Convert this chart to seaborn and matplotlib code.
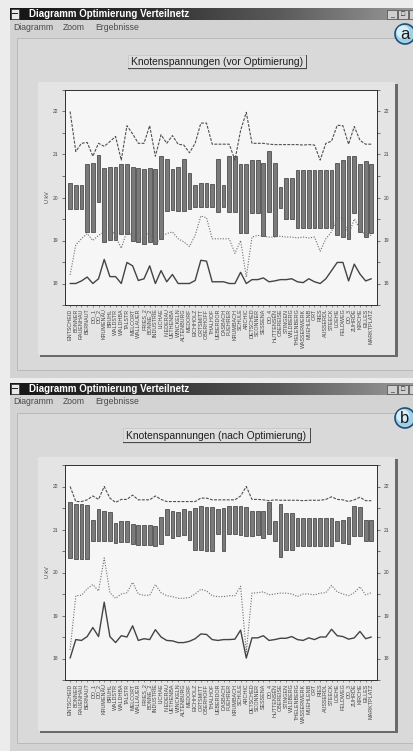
import numpy as np
import pandas as pd
import matplotlib
matplotlib.use("Agg")
import matplotlib.pyplot as plt
from matplotlib.patches import Rectangle, Ellipse
from matplotlib.colors import LinearSegmentedColormap
import seaborn as sns

# ---------------- data ----------------
nodes = ["ENTSCHEID", "BONNER", "RAUENHAU", "BERNAUT", "DO_1", "DO_2", "KRUMENAU",
         "BRUHL", "WALDSTR", "WALDHBA", "TALSTR", "MELCORT", "WALLAUER", "FRIES_2",
         "BONNE_2", "INDUSTRIE", "LICHAE", "NIEDERAU", "UETHENBA", "WINCKELN",
         "ALTENBURG", "MEDORF", "EICHHOLZ", "ORTSMITT", "OBERHOFF", "THALHOF",
         "UEBERDOR", "DASBACH", "FUEHRER", "KRUMBACH", "SCHULE", "ARCHIC",
         "DETSCHED", "SCONNER", "SESSENA", "DO_4", "HUTTENSEN", "OBEREISE",
         "STINGEN", "WILDBERG", "THELENBERG", "WASSERWERK", "MUEHLENB", "ORT",
         "RIES", "AUSSERDL", "STEECK", "LOEHE", "FELDWEG", "DO_3", "ZUHRDE",
         "KIRCHE", "EILLES", "MARKTPLATZ"]

# (a) vor Optimierung
bar_top_vor = [20.33, 20.30, 20.30, 20.78, 20.80, 20.99, 20.69, 20.70, 20.70, 20.77,
               20.77, 20.70, 20.69, 20.66, 20.69, 20.66, 20.97, 20.89, 20.66, 20.72,
               20.89, 20.57, 20.30, 20.33, 20.33, 20.31, 20.89, 20.30, 20.97, 20.97,
               20.78, 20.78, 20.87, 20.87, 20.81, 21.07, 20.81, 20.25, 20.45, 20.45,
               20.65, 20.65, 20.65, 20.65, 20.65, 20.65, 20.65, 20.81, 20.88, 20.96,
               20.96, 20.78, 20.85, 20.78]
bar_bot_vor = [19.74, 19.74, 19.74, 19.19, 19.19, 19.89, 18.96, 19.02, 19.02, 19.16,
               19.16, 18.99, 18.97, 18.93, 18.97, 18.92, 19.04, 19.68, 19.72, 19.68,
               19.68, 19.74, 19.77, 19.79, 19.78, 19.77, 19.66, 19.79, 19.66, 19.66,
               19.18, 19.18, 19.63, 19.64, 19.10, 19.66, 19.10, 19.75, 19.51, 19.51,
               19.29, 19.28, 19.28, 19.28, 19.28, 19.28, 19.28, 19.12, 19.08, 19.04,
               19.64, 19.19, 19.08, 19.18]
u_max_vor = [22.00, 21.07, 21.26, 21.28, 20.96, 21.26, 21.19, 21.30, 21.42, 20.87,
             21.67, 21.48, 21.26, 21.26, 21.67, 20.96, 21.46, 21.26, 21.44, 21.24,
             21.22, 21.04, 21.26, 21.73, 21.73, 21.24, 21.24, 21.24, 21.24, 20.87,
             21.56, 21.98, 21.26, 21.26, 21.26, 21.24, 21.23, 21.23, 21.23, 21.23,
             21.23, 21.22, 21.23, 21.22, 20.87, 21.26, 21.31, 21.68, 21.67, 21.24,
             21.65, 21.33, 21.24, 21.24]
u_mid_vor = [18.20, 18.90, 19.04, 19.16, 19.00, 19.12, 19.20, 19.30, 19.10, 18.82,
             19.22, 19.10, 19.04, 19.04, 19.20, 18.90, 19.08, 19.16, 19.20, 19.04,
             18.97, 18.86, 19.12, 19.57, 19.53, 19.04, 19.04, 19.04, 19.04, 18.70,
             19.00, 18.15, 19.08, 19.12, 19.10, 19.08, 19.08, 19.10, 19.08, 19.08,
             19.06, 19.08, 19.06, 19.08, 18.75, 19.04, 19.20, 19.53, 19.53, 19.12,
             19.50, 19.27, 19.12, 19.12]
u_min_vor = [18.00, 18.00, 18.06, 18.15, 18.00, 18.11, 18.56, 18.16, 18.16, 18.00,
             18.49, 18.41, 18.07, 18.11, 18.41, 18.00, 18.30, 18.04, 18.21, 18.00,
             18.00, 18.00, 18.07, 18.54, 18.52, 18.04, 18.04, 18.04, 18.00, 18.00,
             18.26, 18.00, 18.09, 18.09, 18.13, 18.04, 18.06, 18.09, 18.09, 18.11,
             18.04, 18.02, 18.11, 18.04, 18.00, 18.11, 18.30, 18.49, 18.49, 18.06,
             18.45, 18.22, 18.06, 18.11]

# (b) nach Optimierung
bar_top_nach = [21.63, 21.60, 21.60, 21.58, 21.22, 21.47, 21.43, 21.41, 21.15, 21.20,
                21.20, 21.13, 21.11, 21.10, 21.11, 21.08, 21.28, 21.47, 21.42, 21.41,
                21.48, 21.44, 21.50, 21.54, 21.52, 21.52, 21.47, 21.50, 21.54, 21.54,
                21.54, 21.53, 21.43, 21.43, 21.43, 21.65, 21.19, 21.59, 21.39, 21.39,
                21.27, 21.27, 21.27, 21.27, 21.27, 21.27, 21.27, 21.19, 21.23, 21.28,
                21.54, 21.53, 21.21, 21.21]
bar_bot_nach = [20.34, 20.32, 20.32, 20.31, 20.73, 20.74, 20.73, 20.73, 20.69, 20.72,
                20.72, 20.67, 20.65, 20.63, 20.65, 20.61, 20.67, 20.87, 20.81, 20.86,
                20.87, 20.75, 20.52, 20.52, 20.50, 20.50, 20.89, 20.49, 20.89, 20.89,
                20.87, 20.86, 20.84, 20.87, 20.81, 20.89, 20.73, 20.37, 20.52, 20.52,
                20.61, 20.61, 20.61, 20.61, 20.61, 20.61, 20.61, 20.73, 20.69, 20.67,
                20.86, 20.86, 20.73, 20.73]
u_max_nach = [22.00, 21.65, 21.65, 21.69, 21.78, 21.70, 22.00, 21.73, 21.63, 21.70,
              21.70, 21.80, 21.69, 21.69, 21.69, 21.78, 21.70, 21.65, 21.65, 21.65,
              21.65, 21.65, 21.65, 21.73, 21.73, 21.69, 21.69, 21.69, 21.69, 21.69,
              21.78, 22.00, 21.70, 21.70, 21.69, 21.67, 21.69, 21.68, 21.68, 21.68,
              21.68, 21.67, 21.68, 21.68, 21.68, 21.70, 21.76, 21.70, 21.69, 21.65,
              21.69, 21.75, 21.67, 21.67]
u_mid_nach = [18.20, 19.46, 19.47, 19.62, 19.72, 19.57, 20.34, 19.53, 19.40, 19.50,
              19.53, 19.77, 19.50, 19.47, 19.47, 19.72, 19.53, 19.46, 19.44, 19.40,
              19.40, 19.42, 19.50, 19.61, 19.57, 19.46, 19.44, 19.44, 19.46, 19.46,
              19.68, 18.15, 19.52, 19.53, 19.55, 19.48, 19.50, 19.52, 19.52, 19.50,
              19.44, 19.50, 19.50, 19.48, 19.52, 19.53, 19.70, 19.55, 19.50, 19.46,
              19.53, 19.67, 19.48, 19.53]
u_min_nach = [18.01, 18.44, 18.42, 18.51, 18.72, 18.51, 19.31, 18.51, 18.37, 18.53,
              18.50, 18.76, 18.42, 18.46, 18.44, 18.67, 18.50, 18.42, 18.41, 18.37,
              18.37, 18.40, 18.46, 18.57, 18.56, 18.44, 18.42, 18.44, 18.44, 18.45,
              18.66, 18.01, 18.48, 18.48, 18.53, 18.42, 18.44, 18.47, 18.47, 18.51,
              18.44, 18.42, 18.48, 18.44, 18.50, 18.50, 18.68, 18.53, 18.51, 18.45,
              18.48, 18.63, 18.46, 18.50]

y_ticks = [18, 19, 20, 21, 22]
window_title = "Diagramm Optimierung Verteilnetz"
menu_items = ["Diagramm", "Zoom", "Ergebnisse"]
chart_titles = ["Knotenspannungen (vor Optimierung)", "Knotenspannungen (nach Optimierung)"]
panel_letters = ["a", "b"]
y_label = "U kV"

# ---------------- style ----------------
sns.set_theme(style="white")
plt.rcParams["font.family"] = ["Liberation Sans", "DejaVu Sans"]

W, H = 414, 751
fig = plt.figure(figsize=(W / 100, H / 100), dpi=100, facecolor="#ececec")


def fx(x):
    return x / W


def fy(y):
    return 1 - y / H


def rect(x0, y0, x1, y1, z=-5, **kw):
    kw.setdefault("linewidth", 0)
    fig.add_artist(Rectangle((fx(x0), fy(y1)), (x1 - x0) / W, (y1 - y0) / H,
                             transform=fig.transFigure, zorder=z, **kw))


def disc(cx, cy, r, z, **kw):
    fig.add_artist(Ellipse((fx(cx), fy(cy)), 2 * r / W, 2 * r / H,
                           transform=fig.transFigure, zorder=z, **kw))


def text(x, y, s, **kw):
    fig.text(fx(x), fy(y), s, **kw)


def axes_px(x0, y0, x1, y1, **kw):
    return fig.add_axes([fx(x0), fy(y1), (x1 - x0) / W, (y1 - y0) / H], **kw)


title_cmap = LinearSegmentedColormap.from_list("tb", ["#151515", "#2e2e2e", "#5a5a5a", "#9a9a9a"])

windows = [
    dict(top=8, bottom=378, circ=(405, 34), btn=(128, 55, 306, 69),
         frame=(38, 82, 395, 355), plot=(65, 90, 377, 305),
         data=(bar_top_vor, bar_bot_vor, u_max_vor, u_mid_vor, u_min_vor)),
    dict(top=383, bottom=751, circ=(405, 418), btn=(123, 428, 310, 443),
         frame=(38, 457, 395, 731), plot=(65, 465, 377, 680),
         data=(bar_top_nach, bar_bot_nach, u_max_nach, u_mid_nach, u_min_nach)),
]

pos = np.arange(len(nodes))

for k, win in enumerate(windows):
    t = win["top"]
    # window body
    rect(10, t, 414, win["bottom"], z=-20, facecolor="#d3d3d3")
    # inner content panel
    rect(17, t + 30, 414, win["bottom"] - 8, z=-19, facecolor="#d9d9d9",
         edgecolor="#b5b5b5", linewidth=0.6)

    # title bar gradient
    tb = axes_px(10, t, 414, t + 12)
    tb.imshow(np.linspace(0, 1, 256)[None, :], cmap=title_cmap, aspect="auto")
    tb.set_axis_off()
    # icon
    rect(11, t + 1, 19, t + 11, z=5, facecolor="#e8e8e8", edgecolor="#222", linewidth=0.4)
    rect(12.5, t + 5.5, 17.5, t + 6.3, z=6, facecolor="#222")
    text(29, t + 6.3, window_title, color="white", fontsize=7.0, fontweight="bold",
         va="center", ha="left", zorder=6)
    # window buttons
    for bx, sym in [(387, "_"), (398, "□")]:
        rect(bx, t + 2, bx + 10, t + 11, z=5, facecolor="#cfcfcf", edgecolor="#333", linewidth=0.4)
        text(bx + 5, t + 6.5, sym, fontsize=5, ha="center", va="center", color="#111", zorder=6)
    rect(409, t + 2, 414, t + 11, z=5, facecolor="#cfcfcf", edgecolor="#333", linewidth=0.4)

    # menu
    for mx, item in zip([13, 63, 95], menu_items):
        text(mx, t + 19, item, fontsize=6.2, color="#4a4a4a", va="center", ha="left")

    # panel letter circle
    cx, cy = win["circ"]
    disc(cx, cy, 10, 4, facecolor="#9fd0e6", edgecolor="#1f4f78", linewidth=1.2)
    disc(cx - 2, cy - 2, 6.5, 4.1, facecolor="#d6eef8", edgecolor="none")
    text(cx, cy + 0.5, panel_letters[k], fontsize=12, ha="center", va="center",
         color="#1a1a1a", zorder=5)

    # chart title button
    bx0, by0, bx1, by1 = win["btn"]
    rect(bx0, by0, bx1, by1, z=-4, facecolor="#dedede", edgecolor="#bdbdbd", linewidth=0.4)
    rect(bx0, by1 - 1, bx1 + 1, by1, z=-3, facecolor="#4a4a4a")
    rect(bx1, by0, bx1 + 1.2, by1, z=-3, facecolor="#4a4a4a")
    text((bx0 + bx1) / 2, (by0 + by1) / 2 + 0.3, chart_titles[k], fontsize=7.4,
         ha="center", va="center", color="#1e1e1e")

    # chart frame with shadow
    fx0, fy0, fx1, fy1 = win["frame"]
    rect(fx0, fy0, fx1, fy1, z=-4, facecolor="#e4e4e4")
    rect(fx1, fy0 + 2, fx1 + 3, fy1 + 2, z=-3, facecolor="#6a6a6a")
    rect(fx0 + 2, fy1, fx1 + 3, fy1 + 2, z=-3, facecolor="#6a6a6a")

    # plot
    px0, py0, px1, py1 = win["plot"]
    ax = axes_px(px0, py0, px1, py1)
    ax.set_facecolor("#f6f6f6")
    top, bot, umax, umid, umin = win["data"]
    df = pd.DataFrame({"Knoten": nodes,
                       "Spanne": np.array(top) - np.array(bot),
                       "Unten": bot})
    sns.barplot(data=df, x="Knoten", y="Spanne", order=nodes,
                bottom=df["Unten"].to_numpy(), color="#7a7a7a", saturation=1,
                width=0.66, edgecolor="#383838", linewidth=0.5, errorbar=None, ax=ax)
    sns.lineplot(x=pos, y=umax, ax=ax, color="#505050", linewidth=0.8,
                 linestyle=(0, (2.6, 1.2)), errorbar=None, legend=False)
    sns.lineplot(x=pos, y=umid, ax=ax, color="#6e6e6e", linewidth=0.8,
                 linestyle=(0, (1.0, 1.4)), errorbar=None, legend=False)
    sns.lineplot(x=pos, y=umin, ax=ax, color="#444444", linewidth=1.0,
                 errorbar=None, legend=False)

    ax.set_xlim(-0.9, 54.0)
    ax.set_ylim(17.6, 22.4)
    ax.set_yticks(y_ticks)
    ax.set_yticklabels([str(v) for v in y_ticks])
    ax.set_yticks(np.arange(17.5, 22.6, 1.0), minor=True)
    ax.set_xticks(pos)
    ax.set_xticklabels(nodes, rotation=90, fontsize=3.9, color="#3a3a3a")
    ax.set_xlabel("")
    ax.set_ylabel("")
    ax.tick_params(axis="y", which="both", left=True, right=True, labelleft=True,
                   labelright=True, length=2.2, width=0.5, pad=2.5, labelsize=3.6,
                   colors="#444444", direction="out")
    ax.tick_params(axis="x", bottom=True, length=1.6, width=0.4, pad=1.0,
                   colors="#444444", direction="out")
    for sp in ax.spines.values():
        sp.set_visible(True)
        sp.set_color("#2f2f2f")
        sp.set_linewidth(0.7)
    text(px0 - 17, (py0 + py1) / 2, y_label, rotation=90, fontsize=4,
         ha="center", va="center", color="#444444")

fig.savefig("out.png", dpi=100, facecolor=fig.get_facecolor())
